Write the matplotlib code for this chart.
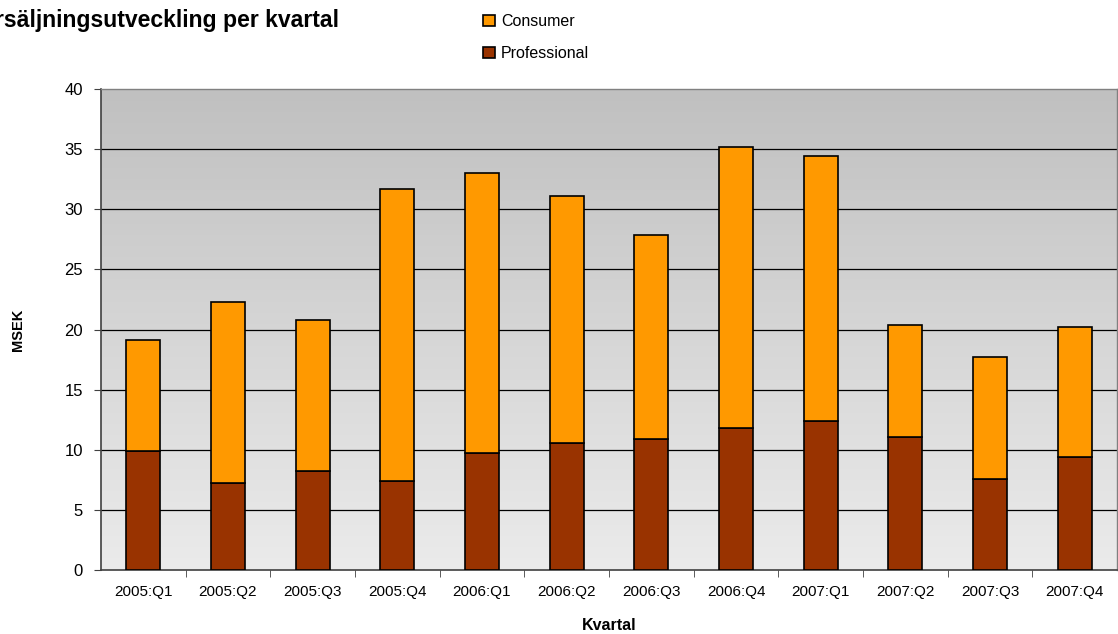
import matplotlib.pyplot as plt
import numpy as np

plt.rcParams['font.family'] = ['Liberation Sans', 'DejaVu Sans']

# data
quarters = ['2005:Q1', '2005:Q2', '2005:Q3', '2005:Q4', '2006:Q1', '2006:Q2',
            '2006:Q3', '2006:Q4', '2007:Q1', '2007:Q2', '2007:Q3', '2007:Q4']
professional = [9.9, 7.2, 8.2, 7.4, 9.7, 10.6, 10.9, 11.8, 12.4, 11.1, 7.6, 9.4]
consumer = [9.2, 15.1, 12.6, 24.3, 23.3, 20.5, 17.0, 23.4, 22.0, 9.3, 10.1, 10.8]

W, H = 1118, 634
fig = plt.figure(figsize=(W / 100, H / 100), dpi=100)
ax = fig.add_axes([101 / W, 1 - 570 / H, (1117 - 101) / W, (570 - 89) / H])

x = np.arange(len(quarters))

# gradient background
grad = np.linspace(0, 1, 256).reshape(-1, 1)
ax.imshow(grad, extent=[-0.5, len(quarters) - 0.5, 0, 40], aspect='auto',
          cmap=plt.matplotlib.colors.LinearSegmentedColormap.from_list(
              'bg', ['#ebebeb', '#c0c0c0']),
          origin='lower', zorder=0)

for yv in range(5, 40, 5):
    ax.axhline(yv, color='#000000', lw=0.9, zorder=1)

ax.bar(x, professional, width=0.4, color='#993300', edgecolor='black', lw=1.2,
       label='Professional', zorder=3)
ax.bar(x, consumer, width=0.4, bottom=professional, color='#ff9900',
       edgecolor='black', lw=1.2, label='Consumer', zorder=3)

ax.set_xlim(-0.5, len(quarters) - 0.5)
ax.set_ylim(0, 40)
ax.set_yticks(range(0, 41, 5))
ax.tick_params(axis='y', labelsize=12, length=5, color='#404040', pad=8)
ax.set_xticks(x)
ax.set_xticklabels(quarters, fontsize=11)
ax.tick_params(axis='x', length=0, pad=11)
ax.set_xticks(np.arange(0.5, len(quarters) - 0.5), minor=True)
ax.tick_params(axis='x', which='minor', length=5, color='#404040')

for s in ['left', 'bottom']:
    ax.spines[s].set_color('#404040')
    ax.spines[s].set_linewidth(1.2)
for s in ['top', 'right']:
    ax.spines[s].set_color('#808080')
    ax.spines[s].set_linewidth(1.0)

fig.text(18 / W, 1 - 330 / H, 'MSEK', rotation=90, ha='center', va='center',
         fontsize=10.5, fontweight='bold')
fig.text(609 / W, 1 - 626 / H, 'Kvartal', ha='center', va='center',
         fontsize=11.5, fontweight='bold')

# title runs off the left edge, as in the original
fig.text(339 / W, 1 - 21 / H, 'Försäljningsutveckling per kvartal',
         ha='right', va='center', fontsize=16.6, fontweight='bold')

h, l = ax.get_legend_handles_labels()
fig.legend(h[::-1], l[::-1], loc='upper left', bbox_to_anchor=(469 / W, 1 - 0 / H),
           frameon=False, fontsize=11.5, handlelength=0.7, handleheight=0.7,
           handletextpad=0.4, labelspacing=1.05)

fig.savefig('out.png', dpi=100)
